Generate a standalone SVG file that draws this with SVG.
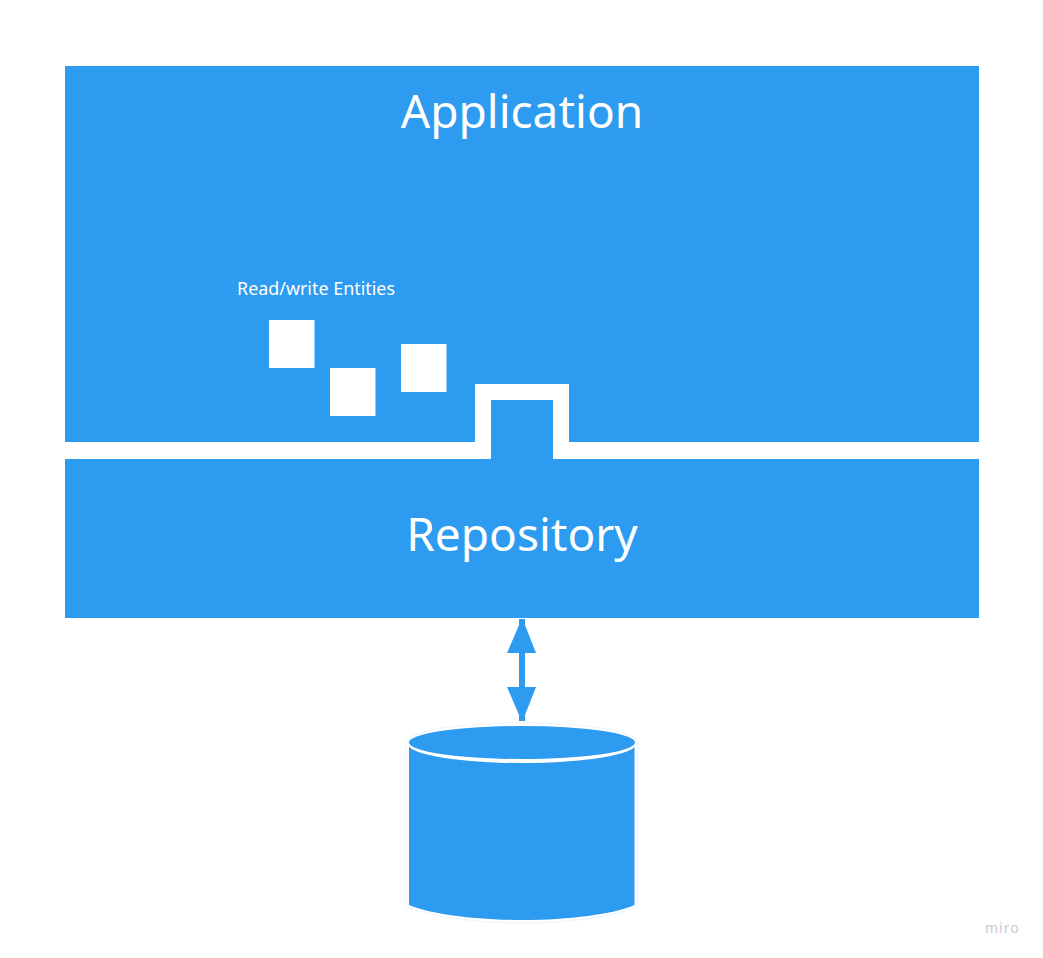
<svg xmlns="http://www.w3.org/2000/svg" width="1043" height="958" viewBox="0 0 1043 958">
  <style>
    .b{fill:#2d9bf0}
    .w{fill:#fff}
    text{font-family:"Noto Sans","Open Sans",sans-serif;fill:#fff}
    .t{font-size:46px;text-anchor:middle}
  </style>
  <rect width="1043" height="958" fill="#fff"/>
  <g id="application">
    <rect class="b" x="65" y="66" width="914" height="376"/>
    <text class="t" x="522" y="128">Application</text>
    <text x="237" y="295" font-size="17.900">Read/write Entities</text>
  </g>
  <g id="interface">
    <path class="w" d="M65 442H475V384H569V442H979V459H65Z"/>
  </g>
  <g id="repository">
    <path class="b" d="M65 459H491V400H553V459H979V618H65Z"/>
    <text class="t" x="522" y="551">Repository</text>
  </g>
  <g id="entity-1"><rect class="w" x="269" y="320" width="45.500" height="48"/></g>
  <g id="entity-2"><rect class="w" x="330" y="368" width="45.500" height="48"/></g>
  <g id="entity-3"><rect class="w" x="401" y="344" width="45.500" height="48"/></g>
  <g id="connectors">
    <path class="b" d="M519 619H525V625L536 653H525V687H536L525 715V721H519V715L507 687H519V653H507L519 625Z"/>
  </g>
  <g id="database">
    <path d="M406 743C406 731 458 723 522 723S638 731 638 743V906C616 916 570 923 522 923S428 916 406 906Z" fill="#fff" stroke="#eaf5fe" stroke-width="1"/>
    <path class="b" d="M409 743V905C430 914 475 920 522 920S614 914 634.500 905V743Z"/>
    <ellipse cx="522" cy="744" rx="114" ry="19" fill="#fff"/>
    <ellipse class="b" cx="522" cy="742.500" rx="113" ry="16.500"/>
  </g>
  <text x="985" y="933" font-size="14" letter-spacing="1" style="fill:#c9ccd1">miro</text>
</svg>
